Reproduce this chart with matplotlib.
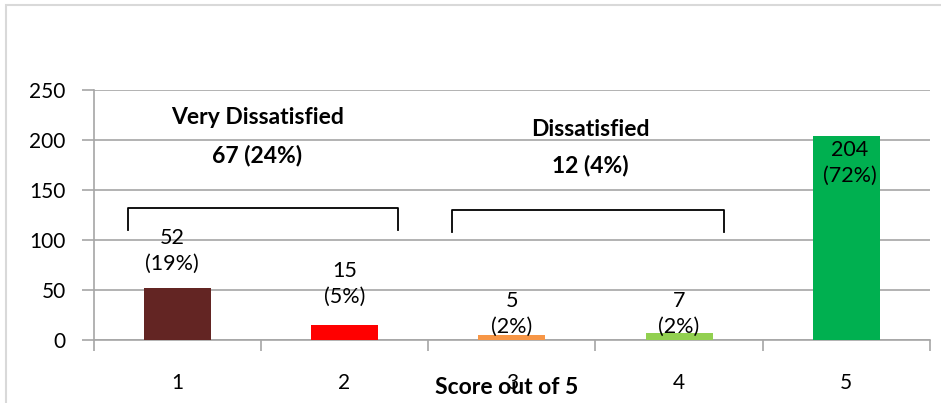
import matplotlib.pyplot as plt
from matplotlib.patches import Rectangle

# Dados do gráfico
scores = ["1", "2", "3", "4", "5"]
counts = [52, 15, 5, 7, 204]
percents = [19, 5, 2, 2, 72]
bar_colors = ["#632523", "#FF0000", "#F79646", "#92D050", "#00B050"]
y_ticks = [0, 50, 100, 150, 200, 250]

groups = ["Very Dissatisfied", "Dissatisfied"]
group_counts = [67, 12]
group_percents = [24, 4]

# posições dos rótulos (ajustadas à mão, como no original)
label_y = [89, 56, 26, 26, 177]
label_dx = [-0.03, 0, 0, 0, 0.02]
group_text_x = [0.48, 2.47]
group_title_y = [223, 210]
group_value_y = [185, 174]
bracket_x = [(-0.293, 1.32), (1.645, 3.266)]
bracket_y = [(132, 110), (130, 108)]

plt.rcParams['font.family'] = ['Lato', 'DejaVu Sans']

fig = plt.figure(figsize=(9.41, 4.03), dpi=100)
W, H = 941, 403
ax = fig.add_axes([93.5 / W, 1 - 340 / H, (930 - 93.5) / W, (340 - 90) / H])

# moldura externa do gráfico
fig.patches.append(Rectangle((6 / W, -0.1), 1.2, 1 - 5 / H + 0.1, transform=fig.transFigure,
                             fill=False, edgecolor="#d9d9d9", linewidth=1.5))

x = list(range(len(scores)))
ax.bar(x, counts, width=0.4, color=bar_colors, zorder=3)

ax.set_xlim(-0.5, 4.5)
ax.set_ylim(0, 250)
ax.set_yticks(y_ticks)
ax.yaxis.grid(True, color="#a6a6a6", linewidth=1.2, zorder=0)
ax.tick_params(axis='y', length=9, width=1.2, color="#a6a6a6", pad=11, labelsize=15)

# marcas nos limites das categorias, rótulos no centro
ax.set_xticks([i - 0.5 for i in range(len(scores) + 1)])
ax.set_xticklabels([])
ax.set_xticks(x, minor=True)
ax.set_xticklabels(scores, minor=True)
ax.tick_params(axis='x', which='major', length=8, width=1.2, color="#a6a6a6")
ax.tick_params(axis='x', which='minor', length=0, pad=24, labelsize=15)

for s in ["top", "right"]:
    ax.spines[s].set_visible(False)
for s in ["left", "bottom"]:
    ax.spines[s].set_color("#a6a6a6")
    ax.spines[s].set_linewidth(1.2)

# rótulos das barras
for i, (c, p) in enumerate(zip(counts, percents)):
    ax.text(i + label_dx[i], label_y[i], f"{c}\n({p}%)", ha='center', va='center',
            fontsize=15.5, linespacing=1.35, zorder=4)

# colchetes e totais dos grupos
for k in range(len(groups)):
    x0, x1 = bracket_x[k]
    yt, yb = bracket_y[k]
    ax.plot([x0, x0, x1, x1], [yb, yt, yt, yb], color="black", linewidth=1.3,
            clip_on=False, zorder=4)
    ax.text(group_text_x[k], group_title_y[k], groups[k], ha='center', va='center',
            fontsize=16.5, fontweight='bold')
    ax.text(group_text_x[k], group_value_y[k], f"{group_counts[k]} ({group_percents[k]}%)",
            ha='center', va='center', fontsize=16.5, fontweight='bold')

fig.text(507 / W, 1 - 388 / H, "Score out of 5", ha='center', va='center',
         fontsize=16.5, fontweight='bold')

plt.savefig("out.png", dpi=100)
